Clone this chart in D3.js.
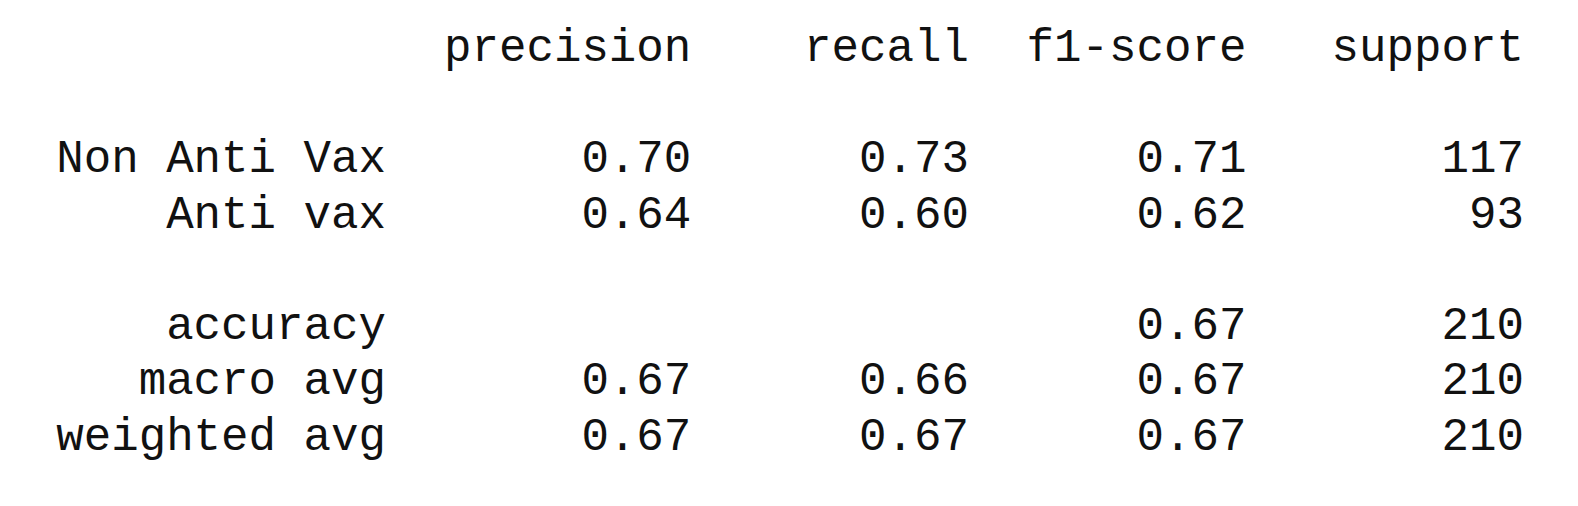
<!DOCTYPE html>
<html>
<head>
<meta charset="utf-8">
<script src="https://cdn.jsdelivr.net/npm/d3@7"></script>
<style>
body { margin: 0; background: #fff; }
text { font-family: "Liberation Mono", "Courier New", monospace; font-size: 45.8px; fill: #111; }
</style>
</head>
<body>
<div id="report"></div>
<script>
var w = 1578, h = 506;

var columns = ["precision", "recall", "f1-score", "support"];
var labels = ["Non Anti Vax", "Anti vax", "accuracy", "macro avg", "weighted avg"];
var lineIndex = [2, 3, 5, 6, 7];   // text line each label sits on
var precision = ["0.70", "0.64", "", "0.67", "0.67"];
var recall = ["0.73", "0.60", "", "0.66", "0.67"];
var f1 = ["0.71", "0.62", "0.67", "0.67", "0.67"];
var support = ["117", "93", "210", "210", "210"];

// right edge of each column, in characters
var xScale = d3.scaleLinear().domain([14, 55]).range([386, 1524]);
var colEnds = [14, 25, 35, 45, 55];
var yScale = d3.scaleLinear().domain([0, 7]).range([61, 450]);

var svg = d3.select("#report").append("svg")
    .attr("width", w).attr("height", h);

svg.selectAll("text.head")
    .data(columns)
    .enter().append("text")
    .attr("class", "head")
    .attr("text-anchor", "end")
    .attr("x", function(d, i) { return xScale(colEnds[i + 1]); })
    .attr("y", yScale(0))
    .text(function(d) { return d; });

var rows = labels.map(function(l, i) {
    return {line: lineIndex[i], cells: [l, precision[i], recall[i], f1[i], support[i]]};
});

var g = svg.selectAll("g.row")
    .data(rows)
    .enter().append("g")
    .attr("class", "row");

g.selectAll("text")
    .data(function(d) { return d.cells.map(function(c, j) { return {v: c, j: j, line: d.line}; }); })
    .enter().append("text")
    .attr("text-anchor", "end")
    .attr("x", function(d) { return xScale(colEnds[d.j]); })
    .attr("y", function(d) { return yScale(d.line); })
    .text(function(d) { return d.v; });
</script>
</body>
</html>
